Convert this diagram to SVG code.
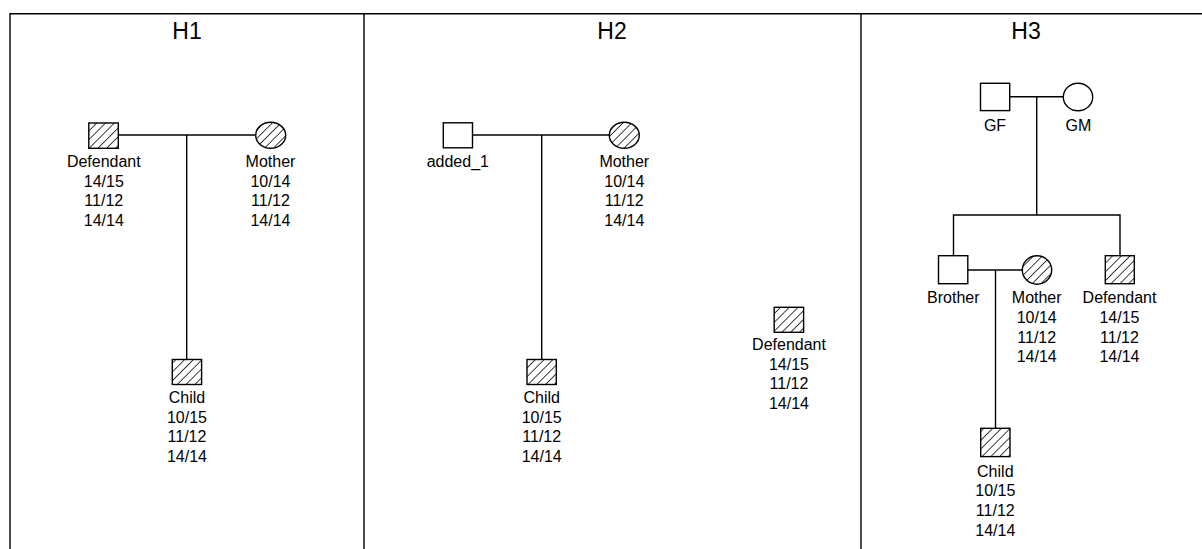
<svg xmlns="http://www.w3.org/2000/svg" width="1202" height="549" viewBox="0 0 1202 549">
<style>
text{font-family:"Liberation Sans",Arial,sans-serif;fill:#000}
.t{font-size:16px;text-anchor:middle}
.h{font-size:23px;text-anchor:middle}
.s{fill:#fff;stroke:#000;stroke-width:1.4}
.a{fill:url(#hatch);stroke:#000;stroke-width:1.4}
.c line,.c path{stroke:#000;stroke-width:1.4;fill:none}
.f{stroke:#000;stroke-width:1.4;fill:none}
</style>
<defs>
<pattern id="hatch" patternUnits="userSpaceOnUse" width="6.2" height="6.2" patternTransform="rotate(45)">
<rect width="6.2" height="6.2" fill="#fff"/>
<line x1="0" y1="0" x2="0" y2="6.2" stroke="#000" stroke-width="1.5"/>
</pattern>
</defs>
<rect width="1202" height="549" fill="#fff"/>
<g id="frame">
<path class="f" d="M10,549 V13.7 H1202 M364,13.7 V549 M861,13.7 V549"/>
<text class="h" x="187" y="39.3">H1</text>
<text class="h" x="612" y="39.3">H2</text>
<text class="h" x="1026" y="39.3">H3</text>
</g>
<g id="connectors" class="c">
<line x1="118.5" y1="135" x2="255.7" y2="135"/>
<line x1="186.7" y1="135" x2="186.7" y2="359.5"/>
<line x1="472.5" y1="135" x2="609.3" y2="135"/>
<line x1="541.7" y1="135" x2="541.7" y2="359.5"/>
<line x1="1009.7" y1="96.7" x2="1063.3" y2="96.7"/>
<line x1="1036.7" y1="96.7" x2="1036.7" y2="215"/>
<path d="M953.5,255.7 V215 H1120 V255.7"/>
<line x1="967.8" y1="270" x2="1022.3" y2="270"/>
<line x1="995.5" y1="270" x2="995.5" y2="428.3"/>
</g>
<g id="h1-defendant">
<rect class="a" x="88.8" y="123" width="29.5" height="25.3"/>
<text class="t" x="103.8" y="166.7">Defendant</text>
<text class="t" x="103.8" y="186.5">14/15</text>
<text class="t" x="103.8" y="206.2">11/12</text>
<text class="t" x="103.8" y="225.9">14/14</text>
</g>
<g id="h1-mother">
<ellipse class="a" cx="270.7" cy="135.3" rx="15" ry="13"/>
<text class="t" x="270.5" y="166.7">Mother</text>
<text class="t" x="270.5" y="186.5">10/14</text>
<text class="t" x="270.5" y="206.2">11/12</text>
<text class="t" x="270.5" y="225.9">14/14</text>
</g>
<g id="h1-child">
<rect class="a" x="172.3" y="359.5" width="29.3" height="25"/>
<text class="t" x="187" y="403">Child</text>
<text class="t" x="187" y="422.7">10/15</text>
<text class="t" x="187" y="442.4">11/12</text>
<text class="t" x="187" y="462.1">14/14</text>
</g>
<g id="h2-added_1">
<rect class="s" x="443.3" y="122.8" width="29.2" height="25"/>
<text class="t" x="457.8" y="166.7">added_1</text>
</g>
<g id="h2-mother">
<ellipse class="a" cx="624.3" cy="135.3" rx="15" ry="13"/>
<text class="t" x="624.3" y="166.7">Mother</text>
<text class="t" x="624.3" y="186.5">10/14</text>
<text class="t" x="624.3" y="206.2">11/12</text>
<text class="t" x="624.3" y="225.9">14/14</text>
</g>
<g id="h2-child">
<rect class="a" x="527" y="359.5" width="29.3" height="25"/>
<text class="t" x="541.7" y="403">Child</text>
<text class="t" x="541.7" y="422.7">10/15</text>
<text class="t" x="541.7" y="442.4">11/12</text>
<text class="t" x="541.7" y="462.1">14/14</text>
</g>
<g id="h2-defendant">
<rect class="a" x="774.2" y="307.3" width="29.4" height="25"/>
<text class="t" x="789" y="350">Defendant</text>
<text class="t" x="789" y="369.7">14/15</text>
<text class="t" x="789" y="389.4">11/12</text>
<text class="t" x="789" y="409.1">14/14</text>
</g>
<g id="h3-gf">
<rect class="s" x="980.5" y="83.3" width="29.2" height="27.3"/>
<text class="t" x="995" y="131">GF</text>
</g>
<g id="h3-gm">
<ellipse class="s" cx="1078" cy="97" rx="14.7" ry="13.8"/>
<text class="t" x="1078.5" y="131">GM</text>
</g>
<g id="h3-brother">
<rect class="s" x="938.5" y="255.7" width="29.3" height="28"/>
<text class="t" x="953.3" y="303.3">Brother</text>
</g>
<g id="h3-mother">
<ellipse class="a" cx="1037" cy="270" rx="14.7" ry="14.2"/>
<text class="t" x="1036.7" y="303.3">Mother</text>
<text class="t" x="1036.7" y="323">10/14</text>
<text class="t" x="1036.7" y="342.7">11/12</text>
<text class="t" x="1036.7" y="362.4">14/14</text>
</g>
<g id="h3-defendant">
<rect class="a" x="1105.3" y="255.7" width="29" height="28"/>
<text class="t" x="1119.5" y="303.3">Defendant</text>
<text class="t" x="1119.5" y="323">14/15</text>
<text class="t" x="1119.5" y="342.7">11/12</text>
<text class="t" x="1119.5" y="362.4">14/14</text>
</g>
<g id="h3-child">
<rect class="a" x="980.7" y="428.3" width="29.3" height="28.3"/>
<text class="t" x="995.3" y="476.7">Child</text>
<text class="t" x="995.3" y="496.4">10/15</text>
<text class="t" x="995.3" y="516.1">11/12</text>
<text class="t" x="995.3" y="535.8">14/14</text>
</g>
</svg>
